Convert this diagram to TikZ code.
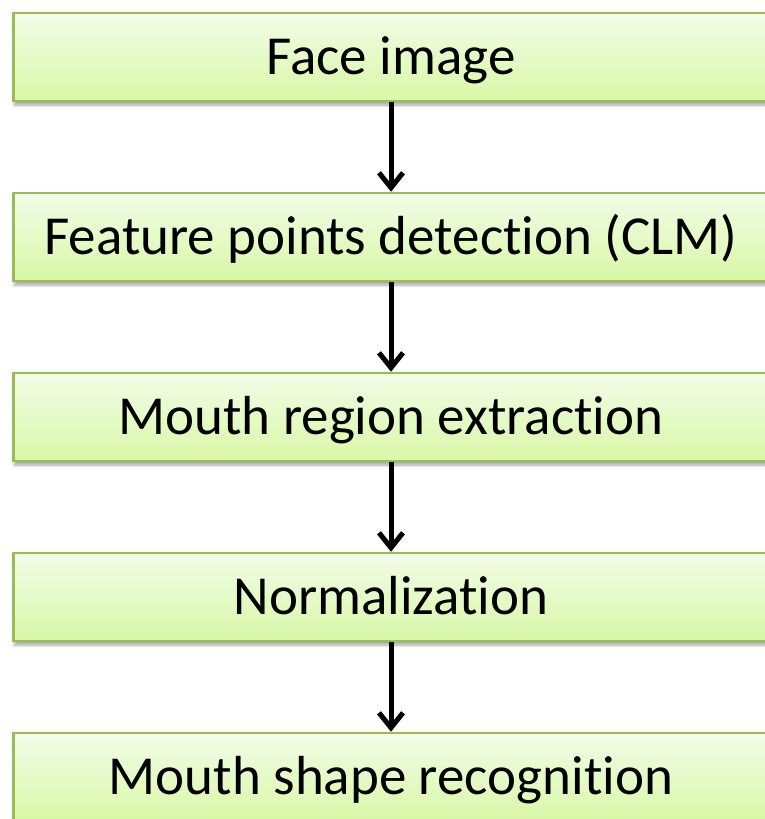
\documentclass[tikz,border=0pt]{standalone}
\usepackage{fontspec}
\setmainfont{Carlito}[Ligatures=NoCommon]
\usetikzlibrary{arrows.meta,shadows.blur}
\definecolor{boxtop}{HTML}{F2FCE8}
\definecolor{boxbot}{HTML}{D8F8A6}
\definecolor{boxline}{HTML}{9BBB59}
\tikzset{
  stage/.style={draw=boxline, line width=2.5pt, top color=boxtop, bottom color=boxbot,
    minimum width=755pt, minimum height=88pt, inner sep=0pt,
    font=\fontsize{55}{64}\selectfont, text height=34pt, text depth=0pt,
    blur shadow={shadow xshift=1pt, shadow yshift=-4pt, shadow blur radius=3pt, shadow opacity=35}},
  flow/.style={line width=5pt, -{Straight Barb[length=15pt, width=24pt]}}
}
\begin{document}
\begin{tikzpicture}[x=1pt,y=-1pt]
  \useasboundingbox (0,0) rectangle (765,819);
  \clip (0,0) rectangle (765,819);
  \node[stage] (s1) at (391,57)  {Face image};
  \node[stage] (s2) at (391,237) {Feature points detection (CLM)};
  \node[stage] (s3) at (391,417) {Mouth region extraction};
  \node[stage] (s4) at (391,597) {Normalization};
  \node[stage] (s5) at (391,777) {Mouth shape recognition};
  \foreach \a/\b in {s1/s2, s2/s3, s3/s4, s4/s5}
    \draw[flow] (\a.south) -- (\b.north);
\end{tikzpicture}
\end{document}
